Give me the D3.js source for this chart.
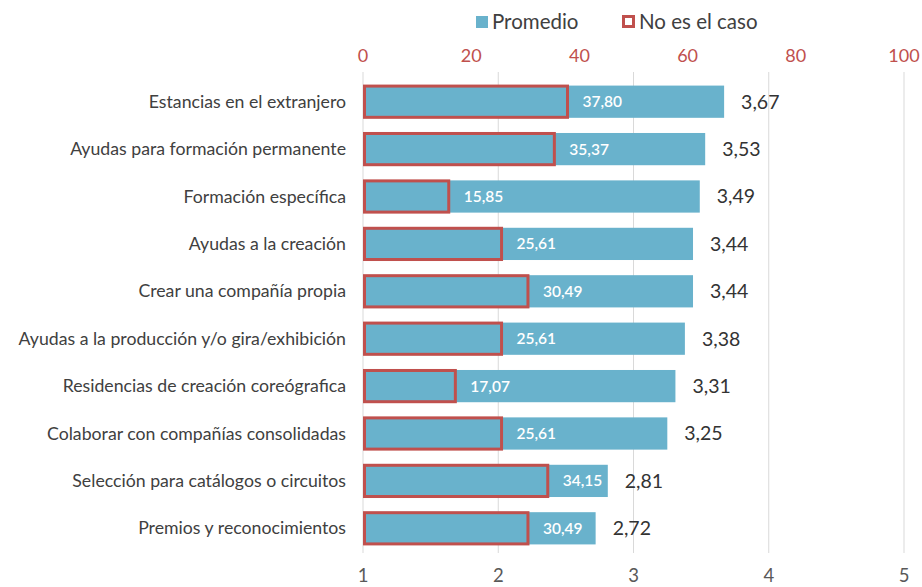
<!DOCTYPE html>
<html>
<head>
<meta charset="utf-8">
<script src="https://cdn.jsdelivr.net/npm/d3@7"></script>
<style>
  html, body { margin: 0; padding: 0; background: #fff; }
  svg { display: block; font-family: Lato, "Open Sans", sans-serif; }
</style>
</head>
<body>
<svg id="chart" width="922" height="587"></svg>
<script>
// categorías (de arriba a abajo)
const categories = [
    "Estancias en el extranjero",
    "Ayudas para formación permanente",
    "Formación específica",
    "Ayudas a la creación",
    "Crear una compañía propia",
    "Ayudas a la producción y/o gira/exhibición",
    "Residencias de creación coreógrafica",
    "Colaborar con compañías consolidadas",
    "Selección para catálogos o circuitos",
    "Premios y reconocimientos"
];
// Promedio (eje inferior 1-5)
const promedio = [3.67, 3.53, 3.49, 3.44, 3.44, 3.38, 3.31, 3.25, 2.81, 2.72];
// No es el caso (eje superior 0-100)
const noEsElCaso = [37.80, 35.37, 15.85, 25.61, 30.49, 25.61, 17.07, 25.61, 34.15, 30.49];
const bottomTicks = [1, 2, 3, 4, 5];
const topTicks = [0, 20, 40, 60, 80, 100];

const BLUE = "#69b2cc";
const RED = "#c0504d";

const svg = d3.select("#chart");
const fmt = (v, d) => v.toFixed(d).replace(".", ",");

const xBot = d3.scaleLinear().domain([1, 5]).range([363, 904]);
const xTop = d3.scaleLinear().domain([0, 100]).range([363, 904]);
const y = d3.scaleBand().domain(categories).range([78, 552]).paddingInner(0.32).paddingOuter(0.16);

// rejilla vertical
svg.append("g").selectAll("line")
    .data(bottomTicks)
    .join("line")
    .attr("x1", d => xBot(d)).attr("x2", d => xBot(d))
    .attr("y1", 72).attr("y2", 553)
    .attr("stroke", "#d9d9d9").attr("stroke-width", 1);

// eje inferior
svg.append("g").selectAll("text")
    .data(bottomTicks)
    .join("text")
    .attr("x", d => xBot(d)).attr("y", 582)
    .attr("text-anchor", "middle")
    .attr("font-size", 18.5)
    .attr("fill", "#595959")
    .text(d => d);

// eje superior
svg.append("g").selectAll("text")
    .data(topTicks)
    .join("text")
    .attr("x", d => xTop(d)).attr("y", 62)
    .attr("text-anchor", "middle")
    .attr("font-size", 18)
    .attr("fill", RED)
    .text(d => d);

// barras Promedio
svg.append("g").selectAll("rect")
    .data(categories)
    .join("rect")
    .attr("x", xBot(1))
    .attr("y", d => y(d))
    .attr("width", (d, i) => xBot(promedio[i]) - xBot(1))
    .attr("height", y.bandwidth())
    .attr("fill", BLUE);

// barras No es el caso (solo contorno)
svg.append("g").selectAll("rect")
    .data(categories)
    .join("rect")
    .attr("x", xTop(0) + 1.5)
    .attr("y", d => y(d) + 0.5)
    .attr("width", (d, i) => xTop(noEsElCaso[i]) - xTop(0) - 1.5)
    .attr("height", y.bandwidth() - 1)
    .attr("fill", "none")
    .attr("stroke", RED)
    .attr("stroke-width", 3);

// etiquetas No es el caso
svg.append("g").selectAll("text")
    .data(categories)
    .join("text")
    .attr("x", (d, i) => xTop(noEsElCaso[i]) + 15)
    .attr("y", d => y(d) + y.bandwidth() / 2)
    .attr("dy", "0.35em")
    .attr("font-size", 15.5)
    .attr("font-weight", 600)
    .attr("fill", "#fff")
    .text((d, i) => fmt(noEsElCaso[i], 2));

// etiquetas Promedio
svg.append("g").selectAll("text")
    .data(categories)
    .join("text")
    .attr("x", (d, i) => xBot(promedio[i]) + 17)
    .attr("y", d => y(d) + y.bandwidth() / 2)
    .attr("dy", "0.35em")
    .attr("font-size", 19.5)
    .attr("fill", "#333")
    .text((d, i) => fmt(promedio[i], 2));

// categorías
svg.append("g").selectAll("text")
    .data(categories)
    .join("text")
    .attr("x", 346)
    .attr("y", d => y(d) + y.bandwidth() / 2)
    .attr("dy", "0.35em")
    .attr("text-anchor", "end")
    .attr("font-size", 17.7)
    .attr("fill", "#404040")
    .text(d => d);

// leyenda
const legend = svg.append("g");
legend.append("rect")
    .attr("x", 476).attr("y", 16).attr("width", 12).attr("height", 12)
    .attr("fill", BLUE);
legend.append("text")
    .attr("x", 492).attr("y", 22).attr("dy", "0.35em")
    .attr("font-size", 20.5).attr("fill", "#404040")
    .text("Promedio");
legend.append("rect")
    .attr("x", 623.5).attr("y", 16.5).attr("width", 10).attr("height", 10)
    .attr("fill", "#fff").attr("stroke", RED).attr("stroke-width", 3);
legend.append("text")
    .attr("x", 639).attr("y", 22).attr("dy", "0.35em")
    .attr("font-size", 20.5).attr("fill", "#404040")
    .text("No es el caso");
</script>
</body>
</html>
